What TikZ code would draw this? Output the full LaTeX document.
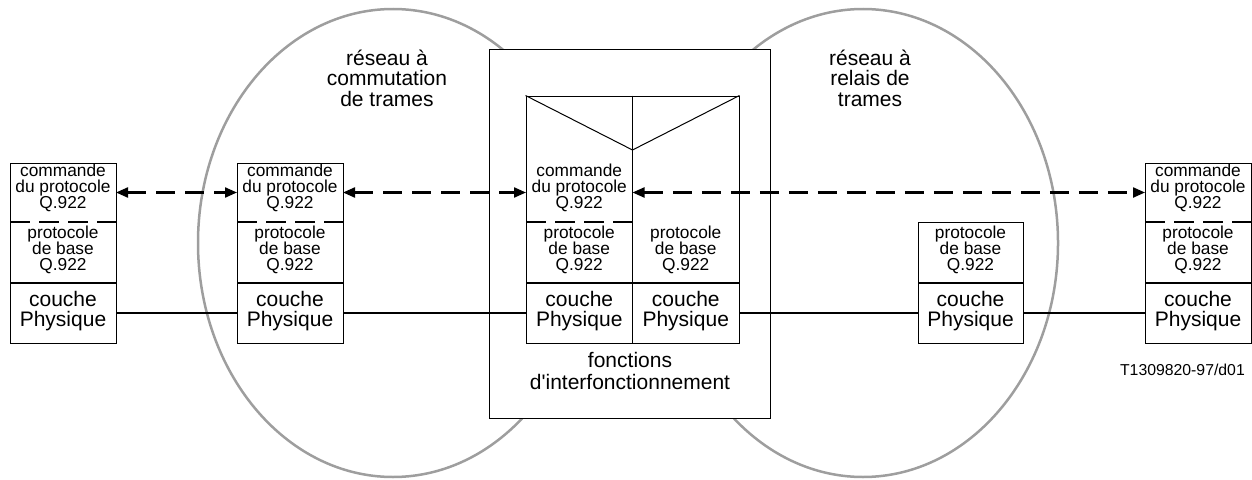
\documentclass[tikz,border=0pt]{standalone}
\usepackage{fontspec}
\setmainfont{Liberation Sans}
\usetikzlibrary{arrows.meta}

% text sizes (lines kept at a fixed pitch)
\newcommand\smallsz{\fontsize{17.3}{16}\selectfont\lineskiplimit=-100pt\lineskip=0pt}
\newcommand\largesz{\fontsize{21}{20}\selectfont\lineskiplimit=-100pt\lineskip=0pt}
\newcommand\titlesz{\fontsize{21}{20.5}\selectfont\lineskiplimit=-100pt\lineskip=0pt}
\newcommand\iwfsz{\fontsize{21}{22}\selectfont\lineskiplimit=-100pt\lineskip=0pt}
\definecolor{netgray}{rgb}{0.62,0.62,0.62}

\tikzset{
  topstrut/.style={execute at begin node={\rule{0pt}{#1pt}}},
  botstrut/.style={execute at end node={\rule[-#1pt]{0pt}{#1pt}}},
  sec/.style={inner sep=0pt, outer sep=0pt, align=center, minimum width=106pt},
  cmdsec/.style={sec, font=\smallsz, minimum height=59pt, topstrut=14, botstrut=12},
  basesec/.style={sec, font=\smallsz, minimum height=61pt, topstrut=14, botstrut=9},
  physec/.style={sec, font=\largesz, minimum height=60pt, topstrut=16, botstrut=8},
  titletext/.style={align=center, inner sep=0pt, font=\titlesz, topstrut=18, botstrut=18},
  boxline/.style={draw, line width=1pt},
  solidsep/.style={line width=1.7pt},
  dashsep/.style={line width=2.1pt, dash pattern=on 20pt off 9pt},
  peer/.style={line width=2.2pt, dash pattern=on 19pt off 10pt,
    {Triangle[length=12pt,width=10pt]}-{Triangle[length=12pt,width=10pt]}},
  wire/.style={line width=1.7pt},
  net/.style={draw=netgray, line width=2.5pt},
}

\begin{document}
\begin{tikzpicture}[x=1pt, y=-1pt]
\useasboundingbox (0,0) rectangle (1252,479);

% the two networks
\draw[net] (393,243) ellipse [x radius=195pt, y radius=234pt];
\draw[net] (863,243) ellipse [x radius=195pt, y radius=234pt];

% interworking unit
\node[boxline, fill=white, minimum width=281pt, minimum height=369pt, inner sep=0pt] (iwu) at (629.5,233.5) {};
\node[align=center, inner sep=0pt, font=\iwfsz, topstrut=18, botstrut=18] (iwf) at (630,380)
  {fonctions\\d\textquotesingle interfonctionnement};

% network titles
\node[titletext] (tleft) at (387,87) {réseau à\\commutation\\de trames};
\node[titletext] (tright) at (870,87) {réseau à\\relais de\\trames};

% left terminal
\node[cmdsec] (c1) at (63,192.5) {commande\\du protocole\\Q.922};
\node[basesec] (b1) at (63,252.5) {protocole\\de base\\Q.922};
\node[physec] (p1) at (63,313) {couche\\Physique};
\draw[boxline] (c1.north west) rectangle (p1.south east);
\draw[dashsep] (c1.south west) -- (c1.south east);
\draw[solidsep] (p1.north west) -- (p1.north east);

% frame switching node
\node[cmdsec] (c2) at (290,192.5) {commande\\du protocole\\Q.922};
\node[basesec] (b2) at (290,252.5) {protocole\\de base\\Q.922};
\node[physec] (p2) at (290,313) {couche\\Physique};
\draw[boxline] (c2.north west) rectangle (p2.south east);
\draw[dashsep] (c2.south west) -- (c2.south east);
\draw[solidsep] (p2.north west) -- (p2.north east);

% interworking stack
\node[boxline, minimum width=213pt, minimum height=247pt, inner sep=0pt] (stk) at (632.5,219.5) {};
\coordinate (vtip) at (632.5,150);
\draw[boxline] (stk.north) -- (stk.south);
\draw[line width=1pt] (stk.north west) -- (vtip) -- (stk.north east);
\node[cmdsec, minimum width=106.5pt] (ic) at (579.25,192.5) {commande\\du protocole\\Q.922};
\node[basesec, minimum width=106.5pt] (ib1) at (579.25,252.5) {protocole\\de base\\Q.922};
\node[basesec, minimum width=106.5pt] (ib2) at (685.75,252.5) {protocole\\de base\\Q.922};
\node[physec, minimum width=106.5pt] (ip1) at (579.25,313) {couche\\Physique};
\node[physec, minimum width=106.5pt] (ip2) at (685.75,313) {couche\\Physique};
\draw[dashsep] (ic.south west) -- (ic.south east);
\draw[solidsep] (ip1.north west) -- (ip2.north east);

% frame relay node
\node[basesec, minimum width=105pt] (mb) at (970.5,252.5) {protocole\\de base\\Q.922};
\node[physec, minimum width=105pt] (mp) at (970.5,313) {couche\\Physique};
\draw[boxline] (mb.north west) rectangle (mp.south east);
\draw[solidsep] (mp.north west) -- (mp.north east);

% right terminal
\node[cmdsec] (cr) at (1198,192.5) {commande\\du protocole\\Q.922};
\node[basesec] (br) at (1198,252.5) {protocole\\de base\\Q.922};
\node[physec] (pr) at (1198,313) {couche\\Physique};
\draw[boxline] (cr.north west) rectangle (pr.south east);
\draw[dashsep] (cr.south west) -- (cr.south east);
\draw[solidsep] (pr.north west) -- (pr.north east);

% physical links
\draw[wire] (p1.east) -- (p2.west);
\draw[wire] (p2.east) -- (ip1.west);
\draw[wire] (ip2.east) -- (mp.west);
\draw[wire] (mp.east) -- (pr.west);

% peer protocol relations
\draw[peer] (c1.east) -- (c2.west);
\draw[peer] (c2.east) -- (ic.west);
\draw[peer] (ic.east) -- (cr.west);

% figure reference
\node[anchor=base east, inner sep=0pt, font=\fontsize{15.8}{18}\selectfont] (ref) at (1245,375)
  {T1309820-97/d01};
\end{tikzpicture}
\end{document}
